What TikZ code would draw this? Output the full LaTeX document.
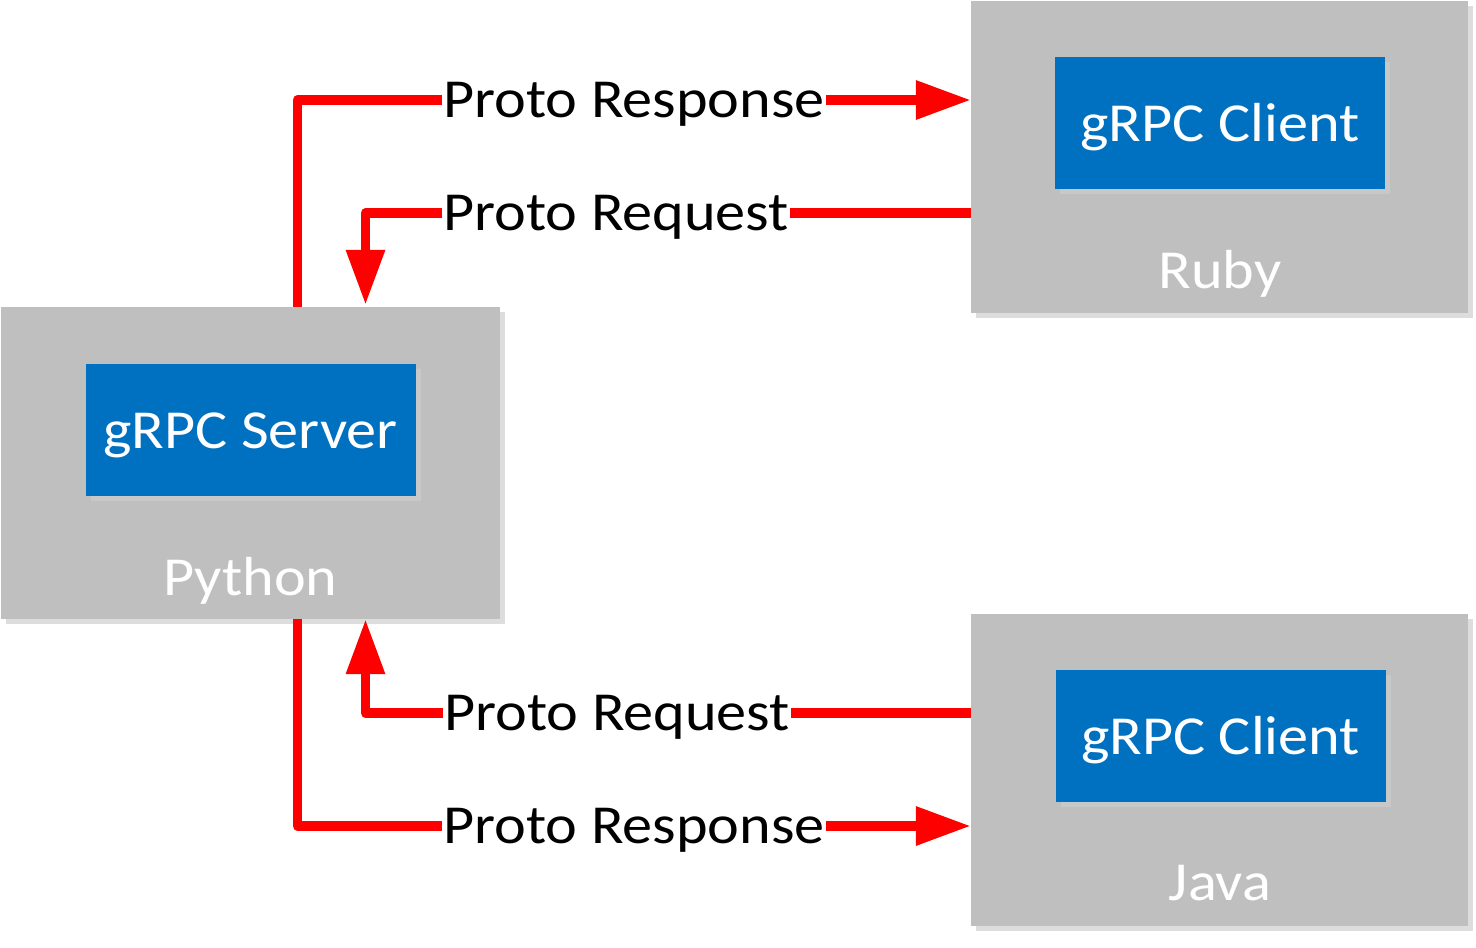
\documentclass[tikz,border=0pt]{standalone}
\usepackage{fontspec}
\setmainfont{Carlito}[FakeStretch=1.095]
\usetikzlibrary{arrows.meta,shadows}
\definecolor{boxgray}{HTML}{BFBFBF}
\definecolor{shadowgray}{HTML}{DDDDDD}
\definecolor{innershadow}{HTML}{C8C8C8}
\definecolor{blueC}{HTML}{0070C0}
\definecolor{redC}{HTML}{FF0000}
\tikzset{
  outerbox/.style={fill=boxgray, draw=none, minimum width=497pt, minimum height=312pt, inner sep=0pt,
    drop shadow={shadow xshift=5pt, shadow yshift=-5pt, fill=shadowgray, opacity=1}},
  innerbox/.style={fill=blueC, draw=none, minimum width=330pt, minimum height=132pt, inner sep=0pt,
    text=white, font=\fontsize{55}{66}\selectfont, text height=40pt, text depth=4pt,
    drop shadow={shadow xshift=5pt, shadow yshift=-5pt, fill=innershadow, opacity=1}},
  boxtext/.style={font=\fontsize{55}{66}\selectfont, text=white, anchor=base, inner sep=0pt},
  lbl/.style={font=\fontsize{55}{66}\selectfont, text=black, anchor=base west, inner xsep=1pt, inner ysep=0pt,
    fill=white, text height=40pt, text depth=6pt},
  conn/.style={draw=redC, line width=9.5pt, line join=round},
  tip/.style={-{Triangle[length=55pt,width=37pt]}}
}
\begin{document}
\begin{tikzpicture}[x=1pt,y=-1pt]
\useasboundingbox (0,0) rectangle (1476,948);
% containers
\node[outerbox, minimum width=499pt] (python) at (250.5,463) {};
\node[innerbox] (server) at (250.5,430) {gRPC Server};
\node[boxtext] (pythontxt) at (250.5,595) {Python};

\node[outerbox] (ruby) at (1219.5,157) {};
\node[innerbox] (rclient) at (1220,123) {gRPC Client};
\node[boxtext] (rubytxt) at (1220,288) {Ruby};

\node[outerbox] (java) at (1219.5,770) {};
\node[innerbox] (jclient) at (1220.5,736) {gRPC Client};
\node[boxtext] (javatxt) at (1220,900) {Java};

% labels
\node[lbl] (resp1) at (442,117) {Proto Response};
\node[lbl] (req1) at (442,230) {Proto Request};
\node[lbl] (req2) at (443,730) {Proto Request};
\node[lbl] (resp2) at (442,843) {Proto Response};

% connectors
\draw[conn] ([xshift=47pt]python.north) |- (resp1.west);
\draw[conn,tip] (resp1.east) -- (resp1.east -| ruby.west);

\draw[conn] (ruby.west |- req1.east) -- (req1.east);
\draw[conn,tip] (req1.west) -| ([xshift=115pt,yshift=2pt]python.north);

\draw[conn] (java.west |- req2.east) -- (req2.east);
\draw[conn,tip] (req2.west) -| ([xshift=115pt]python.south);

\draw[conn] ([xshift=47pt]python.south) |- (resp2.west);
\draw[conn,tip] (resp2.east) -- (resp2.east -| java.west);
\end{tikzpicture}
\end{document}
